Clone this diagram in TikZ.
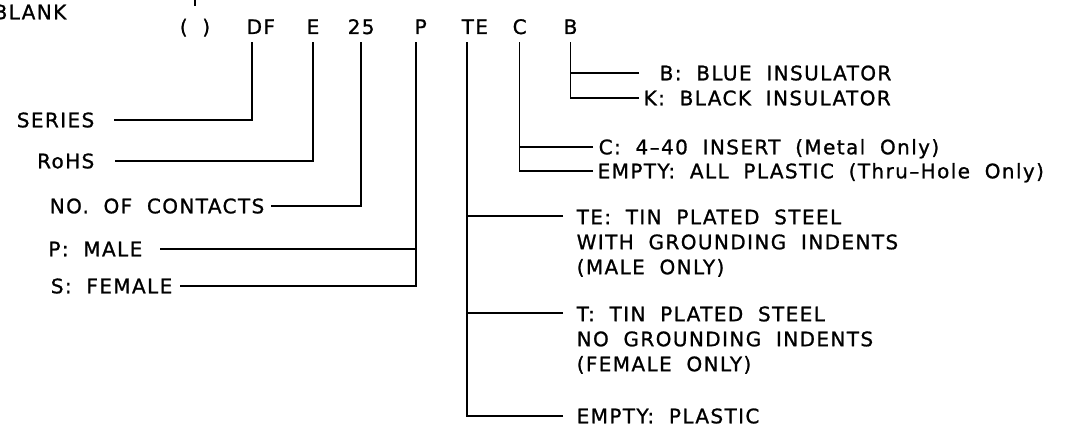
\documentclass[tikz,border=0pt]{standalone}
\usepackage{fontspec}
\newfontfamily\cadfont[LetterSpace=7,WordSpace=1.9,FakeBold=1]{DejaVu Sans}
\usetikzlibrary{calc}

\begin{document}
\begin{tikzpicture}[x=1pt,y=-1pt,line width=1.4pt,
  lbl/.style={font=\cadfont\fontsize{20}{25}\selectfont,inner sep=0pt,
              text height=14.6pt,text depth=0pt},
  code/.style={lbl,inner ysep=7pt,anchor=base west},
  note/.style={font=\cadfont\fontsize{20}{25}\selectfont,inner sep=0pt,
               align=left,anchor=north west}]
\useasboundingbox (0,0) rectangle (1078,433);
\node[lbl,anchor=east] (blank) at (67,12) {BLANK};
\coordinate (blanktop) at (195,0);
\node[code,anchor=base] (paren) at (195,34) {( )};
\node[code] (df) at (246,34) {DF};
\node[code] (e) at (306,34) {E};
\node[code] (num) at (347,34) {25};
\node[code] (p) at (414,34) {P};
\node[code] (te) at (461,34) {TE};
\node[code] (c) at (512,34) {C};
\node[code] (b) at (563,34) {B};
\coordinate (dfstem) at ([xshift=6pt]df.south west);
\coordinate (pstem) at ([xshift=2pt]p.south west);
\coordinate (testem) at ([xshift=6pt]te.south west);

\node[lbl,anchor=east] (series) at (95,120) {SERIES};
\node[lbl,anchor=east] (rohs) at (95,161) {RoHS};
\node[lbl,anchor=east] (contacts) at (265,206) {NO. OF CONTACTS};
\node[lbl,anchor=east] (male) at (143,249) {P: MALE};
\node[lbl,anchor=east] (female) at (173,286) {S: FEMALE};
\node[lbl,anchor=west] (blue) at (659,73) {B: BLUE INSULATOR};
\node[lbl,anchor=west] (black) at (643,98) {K: BLACK INSULATOR};
\node[lbl,anchor=west] (insert) at (598,147) {C: 4–40 INSERT (Metal Only)};
\node[lbl,anchor=west] (allplastic) at (597,171) {EMPTY: ALL PLASTIC (Thru–Hole Only)};
\node[note] (tinwith) at (576,208.7) {TE: TIN PLATED STEEL\\WITH GROUNDING INDENTS\\(MALE ONLY)};
\node[note] (tinno) at (576,305.7) {T: TIN PLATED STEEL\\NO GROUNDING INDENTS\\(FEMALE ONLY)};
\node[lbl,anchor=west] (plastic) at (576,416) {EMPTY: PLASTIC};

\draw ([yshift=6pt]paren.north) -- (blanktop);
\draw ([xshift=19pt]series.east) -| (dfstem);
\draw ([xshift=20pt]rohs.east) -| (e.south);
\draw ([xshift=6pt]contacts.east) -| (num.south);
\draw ([xshift=17pt]male.east) -| (pstem);
\draw ([xshift=7pt]female.east) -| (pstem);
\draw ([xshift=-20pt]blue.west) -| (b.south);
\draw ([xshift=-4pt]black.west) -| (b.south);
\draw ([xshift=-5pt]insert.west) -| (c.south);
\draw ([xshift=-4pt]allplastic.west) -| (c.south);
\draw ([shift={(-13pt,-7.3pt)}]tinwith.north west) -| (testem);
\draw ([shift={(-13pt,-7.3pt)}]tinno.north west) -| (testem);
\draw ([xshift=-13pt]plastic.west) -| (testem);
\end{tikzpicture}
\end{document}
